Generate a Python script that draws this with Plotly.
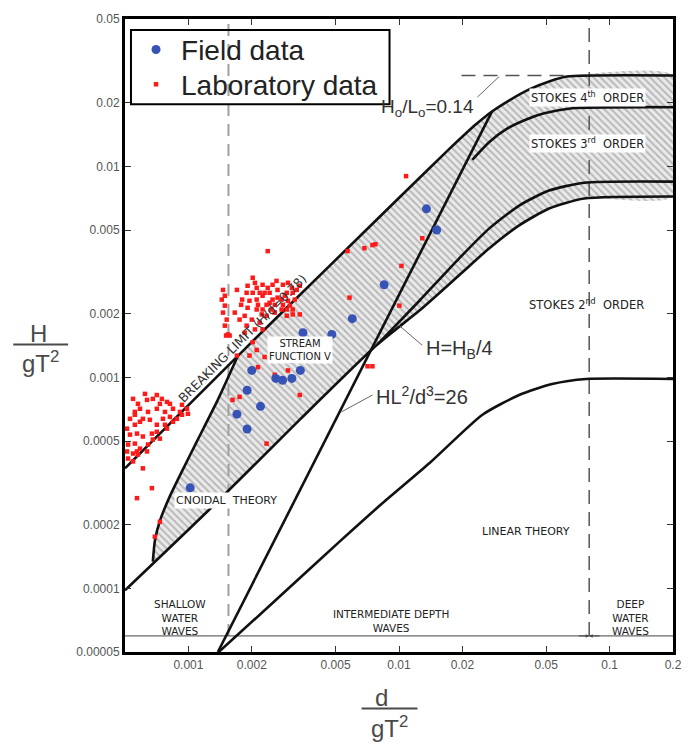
import numpy as np
import plotly.graph_objects as go

# ---------------- axis ticks ----------------
x_ticks = [0.001, 0.002, 0.005, 0.01, 0.02, 0.05, 0.1, 0.2]
x_ticklabels = ["0.001", "0.002", "0.005", "0.01", "0.02", "0.05", "0.1", "0.2"]
y_ticks = [0.00005, 0.0001, 0.0002, 0.0005, 0.001, 0.002, 0.005, 0.01, 0.02, 0.05]
y_ticklabels = ["0.00005", "0.0001", "0.0002", "0.0005", "0.001", "0.002",
                "0.005", "0.01", "0.02", "0.05"]
x_range = [0.0005, 0.2]
y_range = [0.00005, 0.05]

# ---------------- field data (blue) ----------------
field_x = [0.00102, 0.0017, 0.0019, 0.0019, 0.0020, 0.0022, 0.0026, 0.0028, 0.0031,
           0.0031, 0.0034, 0.0035, 0.0048, 0.0060, 0.0085, 0.0135, 0.0151]
field_y = [0.00030, 0.00067, 0.00057, 0.00087, 0.00108, 0.00073, 0.00099, 0.00097, 0.00099,
           0.00122, 0.00108, 0.00163, 0.0016, 0.0019, 0.00275, 0.0063, 0.0050]

# ---------------- laboratory data (red) ----------------
lab_x = [
    # shallow cluster above breaking limit
    0.000546, 0.000622, 0.000708, 0.000636, 0.000678, 0.000748, 0.000791, 0.000845, 0.000932,
    0.000984, 0.000995, 0.000557, 0.000589, 0.000643, 0.000708, 0.000774, 0.000817, 0.000882,
    0.000557, 0.000511, 0.000589, 0.000656, 0.000708, 0.000774, 0.000528, 0.000570, 0.000608,
    0.000671, 0.000732, 0.000791, 0.000517, 0.000557, 0.000589, 0.000643, 0.000678, 0.000511,
    0.000546, 0.000576, 0.000636, 0.000517, 0.000546, 0.000570, 0.000708, 0.000528, 0.000608,
    0.000576, 0.000732, 0.000817, 0.000912, 0.000932, 0.000845, 0.000757, 0.000557,
    # shallow, below breaking limit
    0.000608, 0.000671, 0.000570, 0.000732, 0.000693,
    # intermediate cluster near breaking limit
    0.00238, 0.00202, 0.00207, 0.00191, 0.00211, 0.00225, 0.00238, 0.00251, 0.00265, 0.00281,
    0.00297, 0.00310, 0.00327, 0.00338, 0.00262, 0.00293, 0.00313, 0.00243, 0.00218, 0.00202,
    0.00189, 0.00211, 0.00225, 0.00251, 0.00277, 0.00297, 0.00320, 0.00214, 0.00235, 0.00257,
    0.00281, 0.00303, 0.00277, 0.00293, 0.00191, 0.00180, 0.00211, 0.00225, 0.00248, 0.00313,
    0.00235, 0.00293, 0.00313, 0.00338, 0.00230, 0.00265, 0.00195, 0.00243, 0.00287, 0.00223,
    0.00257,
    0.00146, 0.00149, 0.00144, 0.00149, 0.00146, 0.00152, 0.00149, 0.00154, 0.00151, 0.00157,
    0.00170, 0.00178, 0.00166, 0.00175, 0.00185, 0.00189, 0.00200, 0.00207, 0.00202, 0.00218,
    0.00225, 0.00185,
    # inside the band
    0.00170, 0.00195, 0.00230, 0.00313, 0.00257, 0.00297, 0.00338, 0.00162, 0.00175, 0.00235,
    0.00214, 0.00211, 0.0108, 0.00570, 0.00685, 0.00748, 0.00773, 0.01027, 0.00582, 0.01004,
    0.0129, 0.00709, 0.00748,
]
lab_y = [
    0.000792, 0.000836, 0.000826, 0.000783, 0.000792, 0.000792, 0.000766, 0.000711, 0.000742,
    0.000711, 0.000673, 0.000687, 0.000711, 0.000687, 0.000711, 0.000687, 0.000651, 0.000637,
    0.000597, 0.000572, 0.000617, 0.000630, 0.000597, 0.000597, 0.000536, 0.000542, 0.000525,
    0.000542, 0.000513, 0.000572, 0.000481, 0.000486, 0.000460, 0.000481, 0.000508, 0.000446,
    0.000436, 0.000431, 0.000446, 0.000413, 0.000400, 0.000446, 0.000553, 0.000637, 0.000637,
    0.000750, 0.000750, 0.000750, 0.000687, 0.000666, 0.000617, 0.000637, 0.000666,
    0.000371, 0.000299, 0.000268, 0.000207, 0.000176,
    0.00397, 0.00297, 0.00281, 0.00272, 0.00266, 0.00275, 0.00266, 0.00275, 0.00260, 0.00275,
    0.00281, 0.00266, 0.00260, 0.00272, 0.00287, 0.00252, 0.00252, 0.00252, 0.00252, 0.00252,
    0.00252, 0.00234, 0.00244, 0.00234, 0.00234, 0.00231, 0.00234, 0.00221, 0.00221, 0.00221,
    0.00221, 0.00219, 0.00210, 0.00210, 0.00214, 0.00234, 0.00210, 0.00210, 0.00210, 0.00210,
    0.00196, 0.00196, 0.00199, 0.00199, 0.00252, 0.00239, 0.00231, 0.00226, 0.00244, 0.00199,
    0.00203,
    0.00260, 0.00244, 0.00234, 0.00219, 0.00203, 0.00188, 0.00176, 0.00160, 0.00158, 0.00158,
    0.00260, 0.00221, 0.00203, 0.00188, 0.00196, 0.00176, 0.00188, 0.00169, 0.00147, 0.00182,
    0.00169, 0.00163,
    0.00127, 0.00127, 0.00125, 0.00136, 0.00103, 0.00108, 0.000826, 0.000783, 0.000809, 0.000486,
    0.00112, 0.00135, 0.0090, 0.00397, 0.00410, 0.00424, 0.00428, 0.00338, 0.00239, 0.00219,
    0.00457, 0.00113, 0.00113,
]

# ---------------- theory curves ----------------
breaking_x = [0.0005, 0.00195, 0.00468, 0.01004, 0.01734, 0.02328, 0.02773, 0.03342, 0.0415,
              0.0516, 0.0628, 0.2]
breaking_y = [0.000371, 0.001436, 0.00338, 0.00713, 0.01211, 0.01588, 0.01827, 0.0206, 0.0232,
              0.0253, 0.0267, 0.0270]
stokes34_x = [0.02228, 0.02685, 0.0323, 0.0394, 0.0489, 0.0664, 0.2]
stokes34_y = [0.01075, 0.01306, 0.01503, 0.01657, 0.01786, 0.01888, 0.0191]
stokes23_x = [0.00791, 0.0125, 0.01936, 0.02685, 0.0372, 0.0516, 0.0757, 0.2]
stokes23_y = [0.001436, 0.00231, 0.00368, 0.00509, 0.00653, 0.00769, 0.00838, 0.00848]
hb4_x = [0.0005, 0.001265, 0.00338, 0.00791, 0.0125, 0.01936, 0.02685, 0.0372, 0.0516, 0.0757, 0.2]
hb4_y = [0.000098, 0.000238, 0.000631, 0.001436, 0.002075, 0.00306, 0.00410, 0.00526, 0.00632,
         0.00705, 0.00721]
cnoidal_x = [0.000678, 0.000693, 0.000732, 0.000817, 0.000942, 0.001096, 0.001364, 0.001714]
cnoidal_y = [0.000134, 0.000168, 0.000209, 0.000274, 0.000367, 0.000497, 0.000766, 0.001262]
ursell_x = [0.00138, 0.0277]
ursell_y = [0.00005, 0.0183]
linear_x = [0.001393, 0.00272, 0.00522, 0.00836, 0.01393, 0.0249, 0.0372, 0.0533, 0.0773, 0.2]
linear_y = [0.00005, 0.0000918, 0.0001667, 0.000254, 0.000392, 0.000666, 0.000826, 0.000931,
            0.000984, 0.000984]
steepness_x = [0.0198, 0.0628]
steepness_y = [0.0270, 0.0270]
shallow_limit = 0.00155
deep_limit = 0.08
zone_line_y = 0.0000596

fig = go.Figure()

# hatched validity band
poly_x = list(cnoidal_x) + [x for x in breaking_x if x > cnoidal_x[-1]]
poly_y = list(cnoidal_y) + [y for x, y in zip(breaking_x, breaking_y) if x > cnoidal_x[-1]]
low = [(x, y) for x, y in zip(hb4_x, hb4_y) if x > cnoidal_x[0]]
for x, y in reversed(low):
    poly_x.append(x)
    poly_y.append(y)
poly_x.append(cnoidal_x[0])
poly_y.append(cnoidal_y[0])
fig.add_trace(go.Scatter(
    x=poly_x, y=poly_y, mode="lines", fill="toself",
    line=dict(width=0, shape="spline", smoothing=0.6),
    fillcolor="rgba(0,0,0,0)",
    fillpattern=dict(shape="\\", size=5, solidity=0.4, fgcolor="#858585", bgcolor="#eaeaea",
                     fillmode="overlay"),
    hoverinfo="skip", showlegend=False))

# vertical dashed zone limits
fig.add_trace(go.Scatter(x=[shallow_limit, shallow_limit], y=[zone_line_y, y_range[1]],
                         mode="lines", line=dict(color="#a0a0a0", width=2, dash="12px,8px"),
                         hoverinfo="skip", showlegend=False))
fig.add_trace(go.Scatter(x=[deep_limit, deep_limit], y=[zone_line_y, y_range[1]],
                         mode="lines", line=dict(color="#555555", width=1.5, dash="14px,8px"),
                         hoverinfo="skip", showlegend=False))
# horizontal zone line
fig.add_trace(go.Scatter(x=x_range, y=[zone_line_y, zone_line_y], mode="lines",
                         line=dict(color="#444444", width=1), hoverinfo="skip", showlegend=False))
# steepness limit dashed
fig.add_trace(go.Scatter(x=steepness_x, y=steepness_y, mode="lines",
                         line=dict(color="#555555", width=1.5, dash="14px,8px"),
                         hoverinfo="skip", showlegend=False))

curve_style = dict(color="#111111", width=2.6, shape="spline", smoothing=0.6)
for cx, cy in [(breaking_x, breaking_y), (stokes34_x, stokes34_y), (stokes23_x, stokes23_y),
               (hb4_x, hb4_y), (cnoidal_x, cnoidal_y), (linear_x, linear_y)]:
    fig.add_trace(go.Scatter(x=cx, y=cy, mode="lines", line=curve_style,
                             hoverinfo="skip", showlegend=False))
fig.add_trace(go.Scatter(x=ursell_x, y=ursell_y, mode="lines",
                         line=dict(color="#111111", width=2.6), hoverinfo="skip", showlegend=False))

# leader lines
leaders = [
    ([0.02355, 0.0299], [0.0213, 0.0267]),
    ([0.01004, 0.0129], [0.00176, 0.00142]),
    ([0.00748, 0.00533], [0.000826, 0.000687]),
]
for lx, ly in leaders:
    fig.add_trace(go.Scatter(x=lx, y=ly, mode="lines", line=dict(color="#666666", width=1),
                             hoverinfo="skip", showlegend=False))

# data (each series has its own legend so the two rows can be placed exactly)
fig.add_trace(go.Scatter(x=lab_x, y=lab_y, mode="markers", name="Laboratory data",
                         marker=dict(symbol="square", size=4.5, color="#ff1a1a"),
                         legend="legend2"))
fig.add_trace(go.Scatter(x=field_x, y=field_y, mode="markers", name="Field data",
                         marker=dict(symbol="circle", size=9, color="#3653b5"),
                         legend="legend"))

L = np.log10
annotations = []


def note(x, y, text, box=False, size=11, color="#222222", angle=0,
         family="DejaVu Sans, Arial"):
    annotations.append(dict(
        x=L(x), y=L(y), xref="x", yref="y", text=text, showarrow=False,
        xanchor="center", yanchor="middle",
        textangle=angle, bgcolor="white" if box else "rgba(0,0,0,0)", borderpad=1,
        font=dict(family=family, size=size, color=color)))


note(0.0782, 0.0213, "STOKES 4<sup>th</sup>  ORDER", box=True, size=11.5)
note(0.0782, 0.0128, "STOKES 3<sup>rd</sup>  ORDER", box=True, size=11.5)
note(0.0773, 0.00221, "STOKES 2<sup>nd</sup>  ORDER", size=11.5)
note(0.0402, 0.000186, "LINEAR THEORY")
note(0.00338, 0.00135, "STREAM<br>FUNCTION V", box=True, size=10)
note(0.00152, 0.000262, "CNOIDAL  THEORY", box=True)
note(0.000912, 0.0000731, "SHALLOW<br>WATER<br>WAVES", size=10.5)
note(0.0092, 0.0000700, "INTERMEDIATE DEPTH<br>WAVES", size=10.5)
note(0.125, 0.0000731, "DEEP<br>WATER<br>WAVES", size=10.5)
note(0.0018, 0.00153, "BREAKING LIMIT (H/d=0.78)", size=12.5, angle=-45, color="#333333")
note(0.01365, 0.0189, "H<sub>o</sub>/L<sub>o</sub>=0.14", size=19, color="#333333",
     family="Liberation Sans, Arial")
note(0.0194, 0.00136, "H=H<sub>B</sub>/4", size=20, color="#333333",
     family="Liberation Sans, Arial")
note(0.0129, 0.000826, "HL<sup>2</sup>/d<sup>3</sup>=26", size=20, color="#333333",
     family="Liberation Sans, Arial")

# arrows at deep-water limit on zone line
for ax in (-12, 12):
    annotations.append(dict(x=L(deep_limit), y=L(zone_line_y), xref="x", yref="y", text="",
                            showarrow=True, ax=ax, ay=0, arrowhead=2, arrowsize=0.7,
                            arrowwidth=1, arrowcolor="#444444"))

# axis titles as fractions
title_font = dict(family="Liberation Sans, Arial", size=24, color="#4a4a4a")


def title_note(x, y, text):
    annotations.append(dict(x=x, y=y, xref="paper", yref="paper", text=text, showarrow=False,
                            xanchor="center", yanchor="middle", font=title_font))


title_note(-0.1585, 0.5031, "H")
title_note(-0.1548, 0.4577, "gT<sup>2</sup>")
title_note(0.4681, -0.0721, "d")
title_note(0.4827, -0.1191, "gT<sup>2</sup>")

shapes = [
    dict(type="line", xref="paper", yref="paper", x0=-0.204, x1=-0.1038, y0=0.4859, y1=0.4859,
         line=dict(color="#4a4a4a", width=2)),
    dict(type="line", xref="paper", yref="paper", x0=0.4317, x1=0.5337, y0=-0.0893, y1=-0.0893,
         line=dict(color="#4a4a4a", width=2)),
    # legend frame
    dict(type="rect", xref="paper", yref="paper", x0=0.0109, x1=0.4827, y0=0.8652, y1=0.9828,
         line=dict(color="black", width=2), fillcolor="rgba(0,0,0,0)"),
]

axis_common = dict(type="log", showgrid=False, showline=True, linecolor="black", linewidth=3,
                   mirror="ticks", ticks="inside", ticklen=6, tickcolor="#333333", tickwidth=1,
                   tickfont=dict(family="Liberation Sans, Arial", size=12, color="#555555"))

legend_common = dict(xanchor="left", yanchor="middle", bgcolor="rgba(255,255,255,0)",
                     borderwidth=0, itemwidth=40,
                     font=dict(family="Liberation Sans, Arial", size=28, color="#222222"))

fig.update_layout(
    width=694, height=745,
    margin=dict(l=125, r=20, t=14, b=93),
    plot_bgcolor="white", paper_bgcolor="white",
    xaxis=dict(range=[L(x_range[0]), L(x_range[1])], tickvals=x_ticks, ticktext=x_ticklabels,
               **axis_common),
    yaxis=dict(range=[L(y_range[0]), L(y_range[1])], tickvals=y_ticks, ticktext=y_ticklabels,
               **axis_common),
    legend=dict(x=0.011, y=0.9514, **legend_common),
    legend2=dict(x=0.011, y=0.8966, **legend_common),
    annotations=annotations, shapes=shapes,
)

fig.write_html("out.html")
